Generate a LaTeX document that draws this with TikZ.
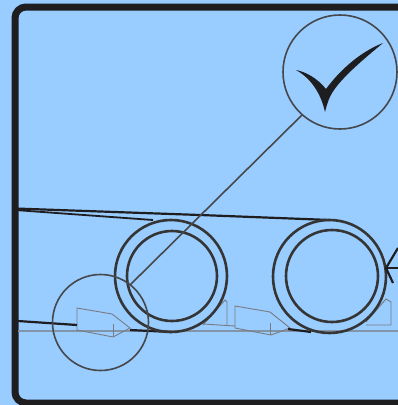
\documentclass[tikz,border=0pt]{standalone}
\usepackage{xcolor}
\usepackage{tikz}
\definecolor{skyfill}{RGB}{153,204,255}
\definecolor{inkdark}{RGB}{30,30,32}
\definecolor{inkgray}{RGB}{70,72,76}
\definecolor{shoegray}{RGB}{120,124,130}
\begin{document}
\begin{tikzpicture}[
  x=1pt, y=-1pt,
  frame/.style={draw=inkdark, line width=7pt, rounded corners=11pt},
  tyre/.style={draw=inkdark!90, line width=2.6pt},
  belt/.style={draw=inkdark, line width=2.2pt},
  lens/.style={draw=inkgray, line width=1.6pt},
  shoe/.style={draw=shoegray, line width=0.9pt},
  floorline/.style={draw=shoegray!70!skyfill, line width=1.2pt}
]
\clip (0,0) rectangle (398,405);
\fill[skyfill] (0,0) rectangle (398,405);
\draw[frame] (15,7) rectangle (420,403);

% floor and blocks
\draw[floorline] (18,331) -- (398,331);
\draw[shoe] (77,330) -- (77,308) -- (112,314) -- (130,328) -- (113,337) -- cycle;
\draw[shoe] (113,324) -- (113,337);
\draw[shoe] (235,328) -- (235,306) -- (270,312) -- (290,328) -- (271,335) -- cycle;
\draw[shoe] (270,323) -- (270,335);
\draw[shoe] (203,324) -- (235,326);
\draw[shoe] (203,325) -- (225,300) -- (227,302) -- (227,325);
\draw[shoe] (366,325) -- (391,325) -- (391,302) -- (386,299) -- (366,322);

% belts
\draw[belt] (15,208.5) -- (200,215) -- (330,220);
\draw[belt, line width=1.8pt] (15,210) -- (153,220);
\draw[belt] (18,321) -- (77,325);
\draw[belt] (130,330) -- (171,332);
\draw[belt] (288,329) -- (311,332);

% wheels
\draw[tyre] (171,276) circle (56);
\draw[tyre] (172,276) circle (45);
\draw[tyre] (329.5,276.5) circle (56.5);
\draw[tyre] (332,276) circle (46);

% arrow at the edge
\draw[belt] (398,248) -- (386,268) -- (393,283);
\draw[belt] (386,268) -- (398,268);

% callout
\draw[lens] (100.5,322.5) circle (48);
\draw[lens] (340,72) circle (57);
\draw[lens] (302,115) -- (130,285);

% tick
\fill[inkdark] (296,70) .. controls (306,72) and (317,78) .. (326,89)
  .. controls (340,70) and (360,52) .. (383,43)
  .. controls (370,54) and (345,74) .. (334,90)
  .. controls (329,97) and (327,104) .. (325,112)
  .. controls (322,98) and (314,80) .. (296,70) -- cycle;
\end{tikzpicture}
\end{document}
